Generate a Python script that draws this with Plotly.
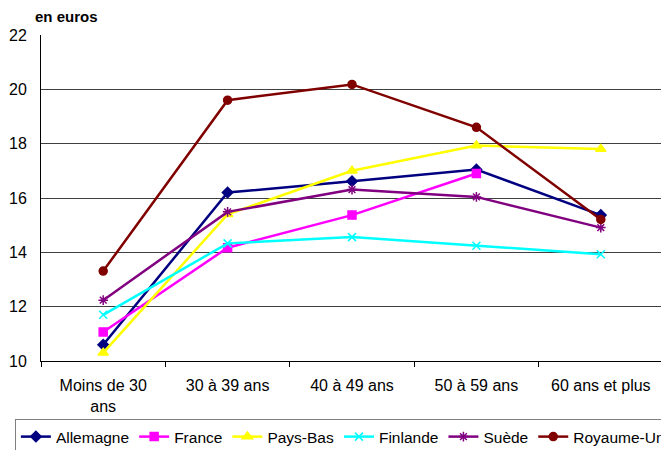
import plotly.graph_objects as go

categories = ["Moins de 30<br>ans", "30 à 39 ans", "40 à 49 ans", "50 à 59 ans", "60 ans et plus"]
allemagne = [10.6, 16.2, 16.62, 17.05, 15.37]
france = [11.07, 14.17, 15.37, 16.9, None]
pays_bas = [10.3, 15.4, 17.0, 17.93, 17.8]
finlande = [11.7, 14.33, 14.56, 14.24, 13.93]
suede = [12.24, 15.49, 16.31, 16.04, 14.91]
royaume_uni = [13.31, 19.6, 20.18, 18.6, 15.21]

series = [
    ("Allemagne", allemagne, "#000080", "diamond", 8),
    ("France", france, "#FF00FF", "square", 8),
    ("Pays-Bas", pays_bas, "#FFFF00", "triangle-up", 9),
    ("Finlande", finlande, "#00FFFF", "x-thin-open", 8),
    ("Suède", suede, "#800080", "asterisk-open", 8),
    ("Royaume-Uni", royaume_uni, "#800000", "circle", 8),
]

fig = go.Figure()
for name, vals, color, sym, size in series:
    fig.add_trace(go.Scatter(
        x=categories, y=vals, name=name, mode="lines+markers",
        line=dict(color=color, width=2.5),
        marker=dict(symbol=sym, size=size, color=color,
                    line=dict(color=color, width=1.5)),
    ))

W, H = 661, 442
fig.update_layout(
    width=W, height=H,
    margin=dict(l=33, r=6, t=27, b=89, autoexpand=False),
    paper_bgcolor="white", plot_bgcolor="white",
    font=dict(family="Liberation Sans, Arial, sans-serif", size=16, color="black"),
    showlegend=True,
    legend=dict(orientation="h", x=-0.042, xanchor="left", y=-0.178, yanchor="top",
                bordercolor="#808080", borderwidth=1, font=dict(size=15.5),
                itemwidth=30, tracegroupgap=0),
    annotations=[dict(text="<b>en euros</b>", xref="paper", yref="paper",
                      x=-0.013, y=1.025, xanchor="left", yanchor="bottom",
                      showarrow=False, font=dict(size=15))],
)
fig.update_xaxes(showline=True, linecolor="black", linewidth=1, mirror=False,
                 ticks="outside", tickson="boundaries", ticklen=5, tickcolor="black",
                 showgrid=False, range=[-0.5, 4.5], ticklabelstandoff=10)
fig.update_yaxes(range=[10, 22], dtick=2, showline=True, linecolor="black", linewidth=1,
                 showgrid=True, gridcolor="#404040", gridwidth=1, ticks="", zeroline=False,
                 ticklabelstandoff=10)
fig.add_shape(type="line", xref="paper", yref="paper", x0=1, x1=1, y0=0, y1=1,
              line=dict(color="#C0C0C0", width=2))

fig.write_html("out.html")
